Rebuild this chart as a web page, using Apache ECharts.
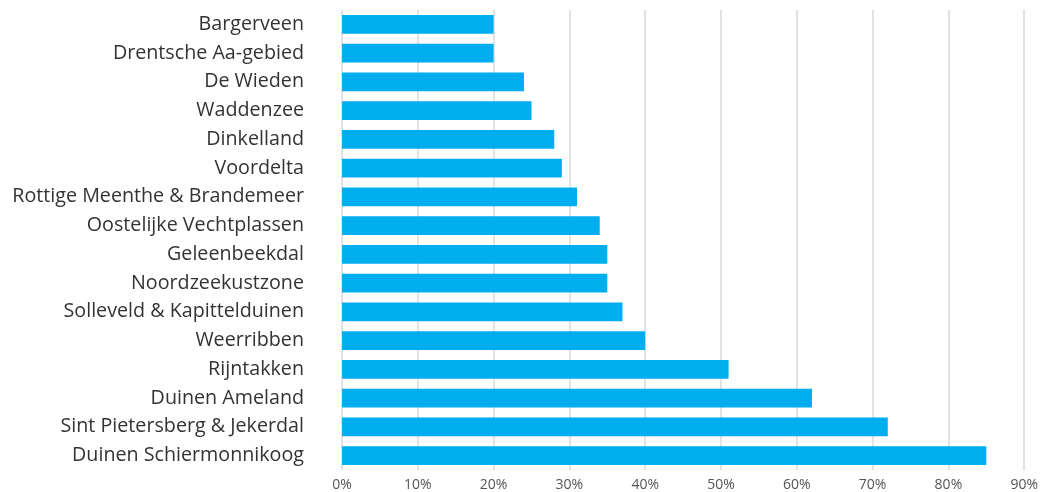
<!DOCTYPE html>
<html>
<head>
<meta charset="utf-8">
<script src="https://cdn.jsdelivr.net/npm/echarts@6/dist/echarts.min.js"></script>
<style>html,body{margin:0;padding:0;background:#fff}#c{width:1041px;height:492px}</style>
</head>
<body>
<div id="c"></div>
<script>
const categories = ["Bargerveen","Drentsche Aa-gebied","De Wieden","Waddenzee","Dinkelland","Voordelta","Rottige Meenthe & Brandemeer","Oostelijke Vechtplassen","Geleenbeekdal","Noordzeekustzone","Solleveld & Kapittelduinen","Weerribben","Rijntakken","Duinen Ameland","Sint Pietersberg & Jekerdal","Duinen Schiermonnikoog"];
const values = [20,20,24,25,28,29,31,34,35,35,37,40,51,62,72,85];
const xTicks = [0,10,20,30,40,50,60,70,80,90];

const chart = echarts.init(document.getElementById('c'), null, {renderer:'canvas'});
chart.setOption({
  animation:false,
  grid:{left:342,right:15,top:10,bottom:21,containLabel:false},
  xAxis:{
    type:'value',min:0,max:90,interval:10,
    axisLine:{show:false},axisTick:{show:false},
    splitLine:{show:true,lineStyle:{color:'#d9d9d9',width:1.5}},
    axisLabel:{formatter:v=>v+'%',color:'#555',fontSize:14,fontFamily:'Open Sans',margin:8}
  },
  yAxis:{
    type:'category',data:categories,inverse:true,
    axisLine:{show:false},axisTick:{show:false},
    axisLabel:{color:'#333',fontSize:19.7,fontFamily:'Open Sans',margin:38}
  },
  series:[{
    type:'bar',data:values,barCategoryGap:'34%',
    itemStyle:{color:'#00adef'}
  }]
});
</script>
</body>
</html>
